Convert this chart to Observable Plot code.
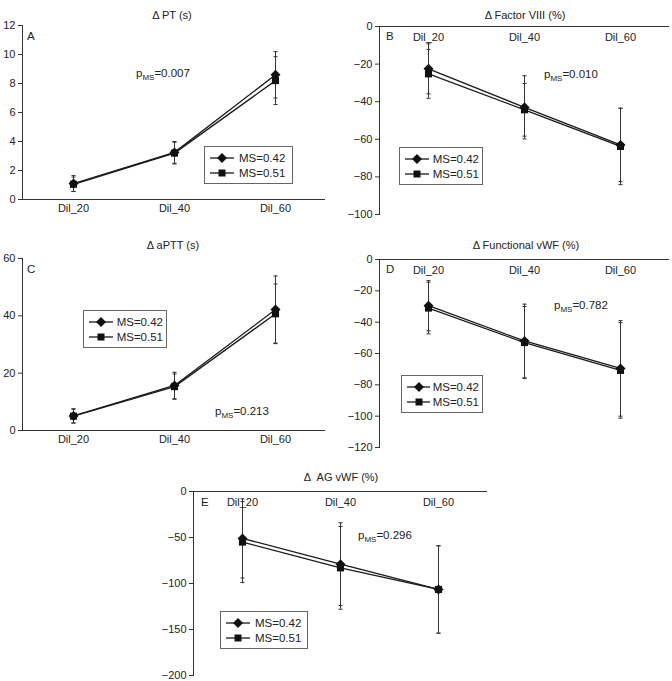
<!DOCTYPE html>
<html>
<head>
<meta charset="utf-8">
<script src="https://cdn.jsdelivr.net/npm/d3@7"></script>
<script src="https://cdn.jsdelivr.net/npm/@observablehq/plot@0.6"></script>
<style>
  html, body { margin: 0; padding: 0; background: #fff; }
  #fig { position: relative; width: 672px; height: 681px; overflow: hidden;
         font-family: "Liberation Sans", Arial, Helvetica, sans-serif; color: #222; }
  .panel { position: absolute; }
  .title { position: absolute; white-space: pre; font-size: 11px; line-height: 1; transform: translate(-50%, -50%); }
  .letter { position: absolute; font-size: 11.5px; line-height: 1; transform: translateY(-50%); }
  .pval { position: absolute; font-size: 11.5px; line-height: 1; transform: translateY(-50%); white-space: nowrap; }
  .pval .sub { font-size: 8px; position: relative; top: 3px; }
  .legend { position: absolute; border: 1px solid #666; background: #fff; box-sizing: border-box; padding: 3px 3px; }
  .legend .row { display: flex; align-items: center; height: 15px; font-size: 11.5px; white-space: nowrap; }
  .legend svg { margin-right: 3px; }
</style>
</head>
<body>
<div id="fig"></div>
<script>
// Dilution steps and the two MS groups
const dilutions = ["Dil_20", "Dil_40", "Dil_60"];
const seriesNames = ["MS=0.42", "MS=0.51"];

// Δ PT (s): mean and SD per dilution
const ptMean42 = [1.1, 3.25, 8.6];
const ptSd42 = [0.55, 0.75, 1.6];
const ptMean51 = [1.05, 3.2, 8.2];
const ptSd51 = [0.5, 0.75, 1.65];
const ptTicks = [0, 2, 4, 6, 8, 10, 12];

// Δ Factor VIII (%)
const f8Mean42 = [-22.5, -43, -63];
const f8Sd42 = [13.3, 16.8, 19.5];
const f8Mean51 = [-25.2, -44.3, -63.8];
const f8Sd51 = [13, 14, 20.3];
const f8Ticks = [0, -20, -40, -60, -80, -100];

// Δ aPTT (s)
const apttMean42 = [5.1, 15.7, 42.2];
const apttSd42 = [2.5, 4.6, 11.7];
const apttMean51 = [5, 15.3, 40.7];
const apttSd51 = [2.4, 4.4, 10.4];
const apttTicks = [0, 20, 40, 60];

// Δ Functional vWF (%)
const fvwfMean42 = [-29.5, -52, -69.5];
const fvwfSd42 = [16, 23.5, 30.5];
const fvwfMean51 = [-31, -53, -70.8];
const fvwfSd51 = [16.5, 23, 30.5];
const fvwfTicks = [0, -20, -40, -60, -80, -100, -120];

// Δ AG vWF (%)
const agMean42 = [-51, -79, -106.5];
const agSd42 = [43, 45, 47.5];
const agMean51 = [-55, -83, -106.5];
const agSd51 = [44, 45, 47.5];
const agTicks = [0, -50, -100, -150, -200];

// Panel titles, letters and p-values for the MS effect
const titles = ["Δ PT (s)", "Δ Factor VIII (%)", "Δ aPTT (s)", "Δ Functional vWF (%)", "Δ  AG vWF (%)"];
const letters = ["A", "B", "C", "D", "E"];
const pMS = ["0.007", "0.010", "0.213", "0.782", "0.296"];

const fig = document.getElementById("fig");
const ink = "#333";
const fmt = d => (d < 0 ? "\u2212" + Math.abs(d) : String(d));

// short horizontal stroke used as the error-bar cap
const capSymbol = {
  draw(context, size) {
    const w = Math.sqrt(size) / 2;
    context.moveTo(-w, 0);
    context.lineTo(w, 0);
  }
};

function addDiv(cls, left, top, html) {
  const el = document.createElement("div");
  el.className = cls;
  el.style.left = left + "px";
  el.style.top = top + "px";
  el.innerHTML = html;
  fig.appendChild(el);
  return el;
}

function legendSymbol(kind) {
  const shape = kind === "diamond"
    ? '<path d="M14,1 L19,6 L14,11 L9,6 Z" fill="#111"/>'
    : '<rect x="10.5" y="2.5" width="7" height="7" fill="#111"/>';
  return `<svg width="28" height="12"><line x1="2" y1="6" x2="26" y2="6" stroke="#1a1a1a" stroke-width="1.3"/>${shape}</svg>`;
}

function drawPanel(i, layout, mean42, sd42, mean51, sd51, ticks) {
  const rows = [];
  dilutions.forEach((d, k) => {
    rows.push({dil: d, series: seriesNames[0], v: mean42[k], lo: mean42[k] - sd42[k], hi: mean42[k] + sd42[k]});
    rows.push({dil: d, series: seriesNames[1], v: mean51[k], lo: mean51[k] - sd51[k], hi: mean51[k] + sd51[k]});
  });
  const yDomain = d3.extent(ticks);
  const marks = [
    Plot.ruleY([0], {stroke: ink, strokeWidth: 1}),
    Plot.frame({anchor: "left", stroke: ink, strokeWidth: 1}),
    Plot.ruleX(rows, {x: "dil", y1: "lo", y2: "hi", stroke: ink, strokeWidth: 1}),
    Plot.dot(rows, {x: "dil", y: "lo", symbol: capSymbol, r: 2.3, stroke: ink, strokeWidth: 1, fill: "none"}),
    Plot.dot(rows, {x: "dil", y: "hi", symbol: capSymbol, r: 2.3, stroke: ink, strokeWidth: 1, fill: "none"}),
    Plot.line(rows, {x: "dil", y: "v", z: "series", stroke: "#1a1a1a", strokeWidth: 1.3}),
    Plot.dot(rows.filter(r => r.series === seriesNames[0]), {x: "dil", y: "v", symbol: "diamond2", r: 4.5, fill: "#111"}),
    Plot.dot(rows.filter(r => r.series === seriesNames[1]), {x: "dil", y: "v", symbol: "square", r: 4, fill: "#111"}),
    Plot.axisY({ticks, tickSize: 4, tickPadding: 3, tickFormat: fmt, label: null, fontSize: 11, stroke: ink})
  ];
  if (layout.labelsInside) {
    marks.push(Plot.text(dilutions, {x: d => d, y: 0, dy: 11, fontSize: 11, fill: "#222"}));
  } else {
    marks.push(Plot.axisX({tickSize: 0, tickPadding: 5, label: null, fontSize: 11}));
  }
  const chart = Plot.plot({
    width: layout.w,
    height: layout.h,
    marginLeft: layout.ml,
    marginRight: layout.mr,
    marginTop: layout.mt,
    marginBottom: layout.mb,
    style: {fontFamily: '"Liberation Sans", Arial, Helvetica, sans-serif', fontSize: "11px", color: "#222", background: "transparent", overflow: "visible"},
    x: {type: "point", domain: dilutions, padding: 0.5, axis: layout.labelsInside ? null : undefined},
    y: {domain: yDomain},
    marks
  });
  const holder = document.createElement("div");
  holder.className = "panel";
  holder.style.left = layout.left + "px";
  holder.style.top = layout.top + "px";
  holder.appendChild(chart);
  fig.appendChild(holder);

  addDiv("title", layout.title[0], layout.title[1], titles[i]);
  addDiv("letter", layout.letter[0], layout.letter[1], letters[i]);
  addDiv("pval", layout.p[0], layout.p[1], `p<span class="sub">MS</span>=${pMS[i]}`);
  const lg = addDiv("legend", layout.legend[0], layout.legend[1],
    `<div class="row">${legendSymbol("diamond")}${seriesNames[0]}</div>` +
    `<div class="row">${legendSymbol("square")}${seriesNames[1]}</div>`);
  lg.style.width = layout.legend[2] + "px";
}

drawPanel(0, {left: 0, top: 0, w: 336, h: 230, ml: 22, mr: 11, mt: 25, mb: 31, labelsInside: false,
  title: [172, 15], letter: [27, 37], p: [136, 74], legend: [204, 146, 89]},
  ptMean42, ptSd42, ptMean51, ptSd51, ptTicks);

drawPanel(1, {left: 336, top: 0, w: 336, h: 230, ml: 43, mr: 3, mt: 26, mb: 16, labelsInside: true,
  title: [525, 15], letter: [386, 37], p: [544, 75], legend: [399, 147, 84]},
  f8Mean42, f8Sd42, f8Mean51, f8Sd51, f8Ticks);

drawPanel(2, {left: 0, top: 230, w: 336, h: 225, ml: 22, mr: 11, mt: 28, mb: 25, labelsInside: false,
  title: [173, 245], letter: [27, 270], p: [215, 412], legend: [83, 310, 84]},
  apttMean42, apttSd42, apttMean51, apttSd51, apttTicks);

drawPanel(3, {left: 336, top: 230, w: 336, h: 230, ml: 43, mr: 3, mt: 29, mb: 13, labelsInside: true,
  title: [526, 245], letter: [386, 270], p: [554, 306], legend: [401, 375, 82]},
  fvwfMean42, fvwfSd42, fvwfMean51, fvwfSd51, fvwfTicks);

drawPanel(4, {left: 150, top: 460, w: 340, h: 221, ml: 43, mr: 3, mt: 31, mb: 6, labelsInside: true,
  title: [341, 477], letter: [201, 503], p: [358, 536], legend: [220, 611, 88]},
  agMean42, agSd42, agMean51, agSd51, agTicks);
</script>
</body>
</html>
